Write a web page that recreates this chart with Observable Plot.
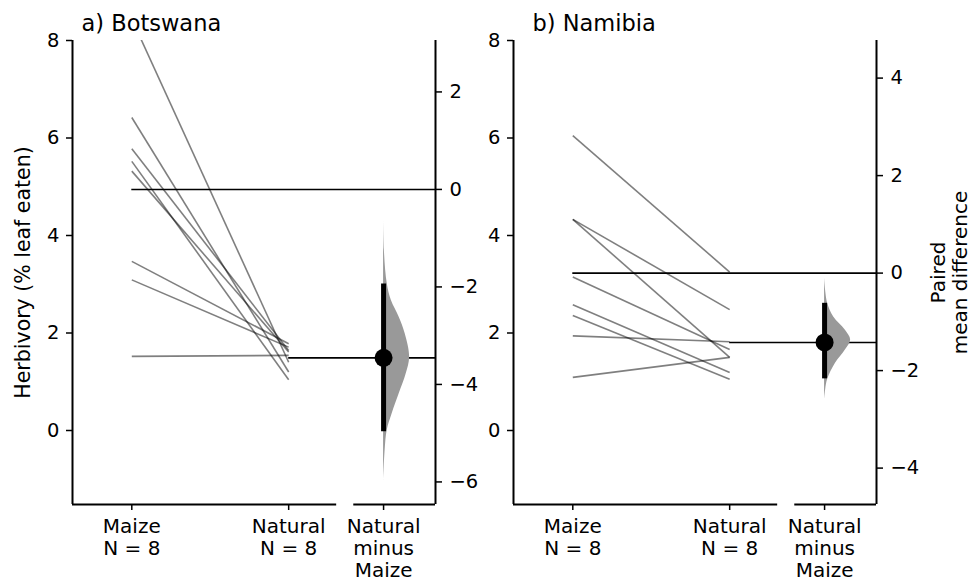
<!DOCTYPE html>
<html>
<head>
<meta charset="utf-8">
<script src="https://cdn.jsdelivr.net/npm/d3@7"></script>
<script src="https://cdn.jsdelivr.net/npm/@observablehq/plot@0.6"></script>
<style>
  body { margin: 0; background: #fff; font-family: "DejaVu Sans", sans-serif; }
  #fig { display: flex; width: 971px; height: 585px; }
  #fig svg { display: block; }
</style>
</head>
<body>
<div id="fig"></div>
<script>
// ---------- data ----------
const groups = ["Maize", "Natural"];
const groupN = [8, 8];
const diffLabel = "Natural\nminus\nMaize";
const panelTitles = ["a) Botswana", "b) Namibia"];
const yLabel = "Herbivory (% leaf eaten)";
const y2Label = "Paired\nmean difference";

const leftTicks = [0, 2, 4, 6, 8];

// Botswana paired observations
const botswanaMaize   = [8.44, 6.42, 5.78, 5.52, 5.32, 3.47, 3.09, 1.52];
const botswanaNatural = [1.40, 1.20, 1.64, 1.04, 1.61, 1.78, 1.71, 1.54];
const botswanaCI = [-4.97, -1.94];
const botswanaBootDiff    = [-0.57, -1.25, -1.93, -2.28, -2.62, -2.96, -3.44, -3.78, -4.19, -4.60, -4.94, -5.35, -5.97];
const botswanaBootDensity = [0, 0.03, 0.14, 0.30, 0.60, 0.83, 1.00, 0.87, 0.60, 0.33, 0.14, 0.06, 0];
const botswanaRightTicks = [-6, -4, -2, 0, 2];

// Namibia paired observations
const namibiaMaize   = [6.05, 4.33, 4.33, 3.15, 2.58, 2.36, 1.94, 1.09];
const namibiaNatural = [3.25, 2.48, 1.50, 1.66, 1.19, 1.05, 1.82, 1.50];
const namibiaCI = [-2.17, -0.62];
const namibiaBootDiff    = [-0.10, -0.62, -0.90, -1.17, -1.37, -1.58, -1.85, -2.18, -2.40, -2.60];
const namibiaBootDensity = [0, 0.12, 0.35, 0.80, 1.00, 0.80, 0.42, 0.12, 0.04, 0];
const namibiaRightTicks = [-4, -2, 0, 2, 4];

// ---------- layout ----------
const X_DOMAIN = [-0.378, 1.936];
const GROUP_X = [0, 1];
const DIFF_X = 1.605;
const GAP = [1.306, 1.415];
const Y_DOMAIN = [-1.518, 8];
const VIOLIN_W = 0.166;

const minus = v => (v < 0 ? "\u2212" + (-v) : String(v));

function panel(o) {
  const mMean = d3.mean(o.maize);
  const nMean = d3.mean(o.natural);
  const pairs = o.maize.map((m, i) => ({m, n: o.natural[i]}));
  const boot = o.bootDiff.map((v, i) => ({y: mMean + v, w: o.bootDensity[i]}));
  const xLabels = new Map([
    [GROUP_X[0], `${groups[0]}\nN = ${groupN[0]}`],
    [GROUP_X[1], `${groups[1]}\nN = ${groupN[1]}`],
    [DIFF_X, diffLabel]
  ]);
  const marks = [
    Plot.link(pairs, {x1: () => GROUP_X[0], x2: () => GROUP_X[1], y1: "m", y2: "n",
      stroke: "black", strokeOpacity: 0.5, strokeWidth: 1.6, clip: true}),
    Plot.ruleY([mMean], {x1: GROUP_X[0], x2: X_DOMAIN[1], stroke: "black", strokeWidth: 1.6}),
    Plot.ruleY([nMean], {x1: GROUP_X[1], x2: X_DOMAIN[1], stroke: "black", strokeWidth: 1.6}),
    Plot.areaX(boot, {y: "y", x1: () => DIFF_X, x2: d => DIFF_X + d.w * VIOLIN_W,
      fill: "#999999", curve: "catmull-rom"}),
    Plot.ruleX([DIFF_X], {y1: mMean + o.ci[0], y2: mMean + o.ci[1], stroke: "black", strokeWidth: 5}),
    Plot.dot([nMean], {x: () => DIFF_X, y: d => d, r: 9, fill: "black", stroke: "none"}),
    // axis lines
    Plot.ruleX([X_DOMAIN[0], X_DOMAIN[1]], {y1: Y_DOMAIN[0], y2: Y_DOMAIN[1], stroke: "black", strokeWidth: 2}),
    Plot.ruleY([{a: X_DOMAIN[0], b: GAP[0]}, {a: GAP[1], b: X_DOMAIN[1]}],
      {y: () => Y_DOMAIN[0], x1: "a", x2: "b", stroke: "black", strokeWidth: 2}),
    Plot.axisY(leftTicks, {anchor: "left", tickSize: 6, tickPadding: 7, fontSize: 19.5,
      strokeWidth: 1.5, label: null}),
    Plot.axisY(o.rightTicks.map(t => mMean + t), {anchor: "right", tickSize: 6, tickPadding: 8,
      fontSize: 19.5, strokeWidth: 1.5, label: null,
      tickFormat: d => minus(Math.round(d - mMean))}),
    Plot.axisX([GROUP_X[0], GROUP_X[1], DIFF_X], {anchor: "bottom", tickSize: 6, tickPadding: 7,
      fontSize: 20, lineHeight: 1.1, strokeWidth: 1.5, label: null,
      tickFormat: d => xLabels.get(d)}),
    Plot.text([o.title], {frameAnchor: "top-left", dx: o.titleDx, dy: -10, lineAnchor: "bottom",
      textAnchor: "start", fontSize: 22.5, fill: "black"})
  ];
  if (o.showYLabel) {
    marks.push(Plot.text([yLabel], {frameAnchor: "left", dx: -49, rotate: -90, textAnchor: "middle",
      lineAnchor: "middle", fontSize: 20.5, fill: "black"}));
  }
  if (o.showY2Label) {
    marks.push(Plot.text([y2Label], {frameAnchor: "right", dx: 72, rotate: -90, textAnchor: "middle",
      lineAnchor: "middle", fontSize: 20, lineHeight: 1.1, fill: "black"}));
  }
  return Plot.plot({
    width: o.width, height: 585,
    marginTop: 40, marginBottom: 81, marginLeft: o.marginLeft, marginRight: o.marginRight,
    x: {domain: X_DOMAIN, axis: null, label: null},
    y: {domain: Y_DOMAIN, axis: null, label: null},
    style: {fontFamily: "DejaVu Sans", fontSize: "20px", color: "black", background: "transparent", overflow: "visible"},
    marks
  });
}

const fig = document.getElementById("fig");
fig.appendChild(panel({
  maize: botswanaMaize, natural: botswanaNatural, ci: botswanaCI,
  bootDiff: botswanaBootDiff, bootDensity: botswanaBootDensity, rightTicks: botswanaRightTicks,
  title: panelTitles[0], titleDx: 9, width: 485, marginLeft: 72, marginRight: 50,
  showYLabel: true, showY2Label: false
}));
fig.appendChild(panel({
  maize: namibiaMaize, natural: namibiaNatural, ci: namibiaCI,
  bootDiff: namibiaBootDiff, bootDensity: namibiaBootDensity, rightTicks: namibiaRightTicks,
  title: panelTitles[1], titleDx: 19, width: 486, marginLeft: 28, marginRight: 95,
  showYLabel: false, showY2Label: true
}));
</script>
</body>
</html>
